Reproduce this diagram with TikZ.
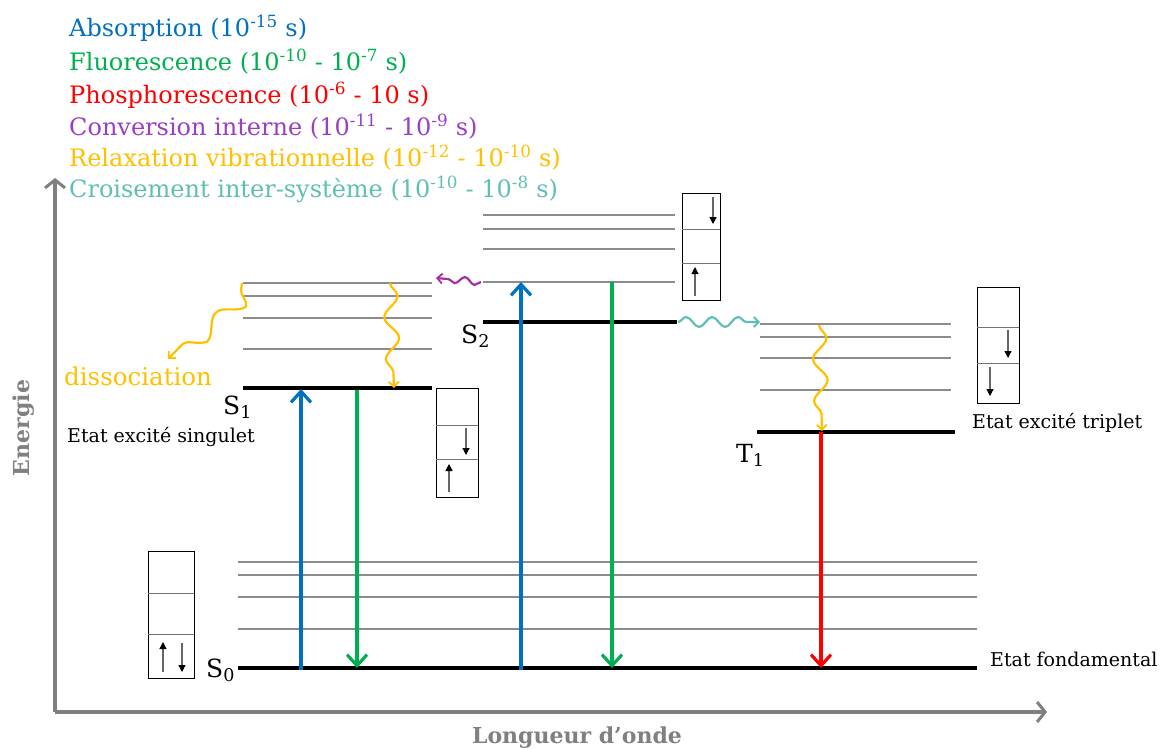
\documentclass[tikz,border=0pt]{standalone}
\usepackage{fontspec}
\setmainfont{DejaVu Serif}
\usetikzlibrary{arrows.meta,decorations.pathmorphing}
\definecolor{cabs}{HTML}{0070C0}
\definecolor{cflu}{HTML}{00B050}
\definecolor{cpho}{HTML}{FF0000}
\definecolor{cconv}{HTML}{9A3FC4}
\definecolor{cconvw}{HTML}{A8309E}
\definecolor{crel}{HTML}{FFC000}
\definecolor{cisc}{HTML}{5FBFB4}
\definecolor{caxis}{HTML}{808080}
\definecolor{cvib}{HTML}{8C8C8C}
\begin{document}
\begin{tikzpicture}[x=1pt,y=-1pt,
  vib/.style={draw=cvib,line width=1.3pt},
  lev/.style={draw=black,line width=4pt},
  trans/.style={line width=3.8pt,-{Straight Barb[length=11pt,width=20pt,line width=3.2pt]}},
  spinbox/.style={draw,line width=1.2pt,inner sep=0pt,anchor=north west},
  spin/.style={draw=black!60,line width=1.1pt,-{Triangle[length=7pt,width=7pt,color=black]}},
  wave/.style={line width=2.2pt,decorate,-{Straight Barb[length=5pt,width=10pt,line width=1.8pt]}},
  legend/.style={anchor=west,inner sep=0pt,font=\fontsize{24}{30}\selectfont},
  lab/.style={inner sep=0pt,font=\fontsize{19}{24}\selectfont},
  slab/.style={inner sep=0pt,font=\fontsize{25}{30}\selectfont},
  axis/.style={draw=caxis,line width=4pt,-{Straight Barb[length=8pt,width=20pt,line width=3pt]}},
  axlab/.style={text=caxis,inner sep=0pt,font=\fontsize{22}{26}\selectfont\bfseries}
]
\useasboundingbox (0,0) rectangle (1161,749);

% axes
\coordinate (O) at (55,712);
\coordinate (Ytop) at (55,178);
\coordinate (Xend) at (1047,712);
\draw[axis] (O) -- (Ytop);
\draw[axis] (O) -- (Xend);
\node[axlab,rotate=90] (ylab) at (24,428) {Energie};
\node[axlab] (xlab) at (577,738) {Longueur d’onde};

% legend
\node[legend,text=cabs] (l1) at (69,28) {Absorption (10\textsuperscript{-15} s)};
\node[legend,text=cflu] (l2) at (69,62) {Fluorescence (10\textsuperscript{-10} - 10\textsuperscript{-7} s)};
\node[legend,text=cpho] (l3) at (69,95) {Phosphorescence (10\textsuperscript{-6} - 10 s)};
\node[legend,text=cconv] (l4) at (69,127) {Conversion interne (10\textsuperscript{-11} - 10\textsuperscript{-9} s)};
\node[legend,text=crel] (l5) at (69,158) {Relaxation vibrationnelle (10\textsuperscript{-12} - 10\textsuperscript{-10} s)};
\node[legend,text=cisc] (l6) at (69,189) {Croisement inter-système (10\textsuperscript{-10} - 10\textsuperscript{-8} s)};

% S0 levels
\foreach \y in {562,575,597,629} \draw[vib] (238,\y) -- (977,\y);
\draw[lev] (238,668) -- (977,668);
% S1 levels
\foreach \y in {283,296,318,349} \draw[vib] (243,\y) -- (432,\y);
\draw[lev] (243,388) -- (432,388);
% S2 levels
\foreach \y in {215,229,249,282} \draw[vib] (483,\y) -- (675,\y);
\draw[lev] (483,322) -- (677,322);
% T1 levels
\foreach \y in {324,337,358,390} \draw[vib] (760,\y) -- (951,\y);
\draw[lev] (757,432) -- (955,432);

% labels
\node[slab,anchor=base west] (s0) at (206,677) {S\textsubscript{0}};
\node[slab,anchor=base west] (s1) at (223,414) {S\textsubscript{1}};
\node[slab,anchor=base west] (s2) at (461,343) {S\textsubscript{2}};
\node[slab,anchor=base west] (t1) at (736,462) {T\textsubscript{1}};
\node[lab,anchor=west] (e1) at (67,437) {Etat excité singulet};
\node[lab,anchor=west] (e0) at (990,659) {Etat fondamental};
\node[lab,anchor=west] (e3) at (972,423) {Etat excité triplet};
\node[legend,text=crel,anchor=west,font=\fontsize{24.5}{30}\selectfont] (diss) at (64,376) {dissociation};

% spin boxes
\node[spinbox,minimum width=46pt,minimum height=127pt] (b0) at (148,551) {};
\draw[line width=1pt,draw=black!55] (148,593) -- (194,593) (148,634) -- (194,634);
\draw[spin] (163,672) -- (163,642);
\draw[spin] (182,643) -- (182,672);

\node[spinbox,minimum width=42pt,minimum height=109pt] (b1) at (436,388) {};
\draw[line width=1pt,draw=black!55] (436,425) -- (478,425) (436,459) -- (478,459);
\draw[spin] (466,428) -- (466,455);
\draw[spin] (449,492) -- (449,464);

\node[spinbox,minimum width=38pt,minimum height=107pt] (b2) at (682,193) {};
\draw[line width=1pt,draw=black!55] (682,229) -- (720,229) (682,263) -- (720,263);
\draw[spin] (713,197) -- (713,224);
\draw[spin] (695,296) -- (695,267);

\node[spinbox,minimum width=42pt,minimum height=116pt] (b3) at (977,287) {};
\draw[line width=1pt,draw=black!55] (977,327) -- (1019,327) (977,363) -- (1019,363);
\draw[spin] (1008,330) -- (1008,358);
\draw[spin] (990,367) -- (990,396);

% transition end points
\coordinate (a1b) at (301,670);
\coordinate (a1t) at (301,389);
\coordinate (f1t) at (357,390);
\coordinate (f1b) at (357,668);
\coordinate (a2b) at (521,670);
\coordinate (a2t) at (521,282);
\coordinate (f2t) at (612,282);
\coordinate (f2b) at (612,668);
\coordinate (p1t) at (821,432);
\coordinate (p1b) at (821,668);

\draw[trans,cabs] (a1b) -- (a1t);
\draw[trans,cflu] (f1t) -- (f1b);
\draw[trans,cabs] (a2b) -- (a2t);
\draw[trans,cflu] (f2t) -- (f2b);
\draw[trans,cpho] (p1t) -- (p1b);

% wavy transitions
\coordinate (r1s) at (390,283);
\coordinate (r1e) at (394,388);
\coordinate (r2s) at (819,325);
\coordinate (r2e) at (822,431);
\coordinate (cs) at (481,282);
\coordinate (ce) at (436,278);
\coordinate (is) at (678,322);
\coordinate (ie) at (760,322);
\coordinate (ds) at (242,283);
\coordinate (de) at (168,359);

\draw[wave,crel,decoration={snake,amplitude=7pt,segment length=42pt,post length=4pt}] (r1s) -- (r1e);
\draw[wave,crel,decoration={snake,amplitude=7pt,segment length=42pt,post length=4pt}] (r2s) -- (r2e);
\draw[wave,cconvw,decoration={snake,amplitude=3.5pt,segment length=20pt,post length=3pt}] (cs) -- (ce);
\draw[wave,cisc,decoration={snake,amplitude=5pt,segment length=26pt,post length=4pt}] (is) -- (ie);
\draw[wave,crel,decoration={snake,amplitude=9pt,segment length=50pt,pre length=6pt,post length=5pt}] (ds) .. controls (240,310) and (215,310) .. (de);
\end{tikzpicture}
\end{document}
